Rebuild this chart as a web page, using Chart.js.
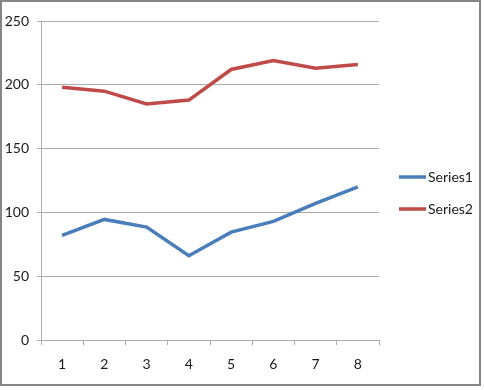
<!DOCTYPE html>
<html>
<head>
<meta charset="utf-8">
<script src="https://cdn.jsdelivr.net/npm/chart.js@4"></script>
<style>
  html, body { margin: 0; padding: 0; background: #fff; }
  #wrap { position: relative; width: 484px; height: 390px; }
  #frame {
    position: absolute; left: 0; top: 0;
    width: 477px; height: 382px;
    border: 2px solid #858585;
    pointer-events: none;
  }
</style>
</head>
<body>
<div id="wrap">
  <canvas id="chart" width="484" height="390"></canvas>
  <div id="frame"></div>
</div>
<script>
const labels = ["1", "2", "3", "4", "5", "6", "7", "8"];
const series1 = [82, 94.5, 88.5, 66, 84.5, 93, 107, 120];
const series2 = [198, 195, 185, 188, 212, 219, 213, 216];
const yTicks = [0, 50, 100, 150, 200, 250];

const FONT = "Lato, 'Noto Sans', sans-serif";
const FONT_SIZE = 14;
const gridColor = "#ababab";
const textColor = "#1a1a1a";

// legend drawn on the right, like the Excel original
const sideLegend = {
  id: "sideLegend",
  afterDraw(chart) {
    const ctx = chart.ctx;
    const sets = chart.data.datasets;
    const gap = 32;
    const y0 = chart.height / 2 - 2 - gap * (sets.length - 1) / 2;
    ctx.save();
    ctx.font = FONT_SIZE + "px " + FONT;
    ctx.textBaseline = "middle";
    sets.forEach((ds, i) => {
      const y = y0 + i * gap;
      ctx.strokeStyle = ds.borderColor;
      ctx.lineWidth = 3.5;
      ctx.beginPath();
      ctx.moveTo(399, y);
      ctx.lineTo(426, y);
      ctx.stroke();
      ctx.fillStyle = textColor;
      ctx.fillText(ds.label, 428, y);
    });
    ctx.restore();
  }
};

new Chart(document.getElementById("chart"), {
  type: "line",
  data: {
    labels,
    datasets: [
      { label: "Series1", data: series1, borderColor: "#4a7ebb", backgroundColor: "#4a7ebb",
        borderWidth: 3.5, pointRadius: 0, tension: 0 },
      { label: "Series2", data: series2, borderColor: "#be4b48", backgroundColor: "#be4b48",
        borderWidth: 3.5, pointRadius: 0, tension: 0 }
    ]
  },
  options: {
    responsive: false,
    animation: false,
    layout: { padding: { left: 0, top: 21, right: 105, bottom: 0 } },
    plugins: { legend: { display: false }, tooltip: { enabled: false } },
    scales: {
      x: {
        offset: true,
        grid: { offset: true, drawOnChartArea: false, drawTicks: true, tickLength: 5, color: gridColor },
        border: { color: gridColor, width: 1 },
        ticks: { color: textColor, font: { family: FONT, size: FONT_SIZE }, padding: 11, maxRotation: 0 },
        afterFit(scale) { scale.height = 50; }
      },
      y: {
        min: 0,
        max: 250,
        afterBuildTicks(scale) { scale.ticks = yTicks.map(v => ({ value: v })); },
        grid: { color: gridColor, tickLength: 4 },
        border: { color: gridColor, width: 1 },
        ticks: { color: textColor, font: { family: FONT, size: FONT_SIZE }, padding: 8 },
        afterFit(scale) { scale.width = 41; }
      }
    }
  },
  plugins: [sideLegend]
});
</script>
</body>
</html>
